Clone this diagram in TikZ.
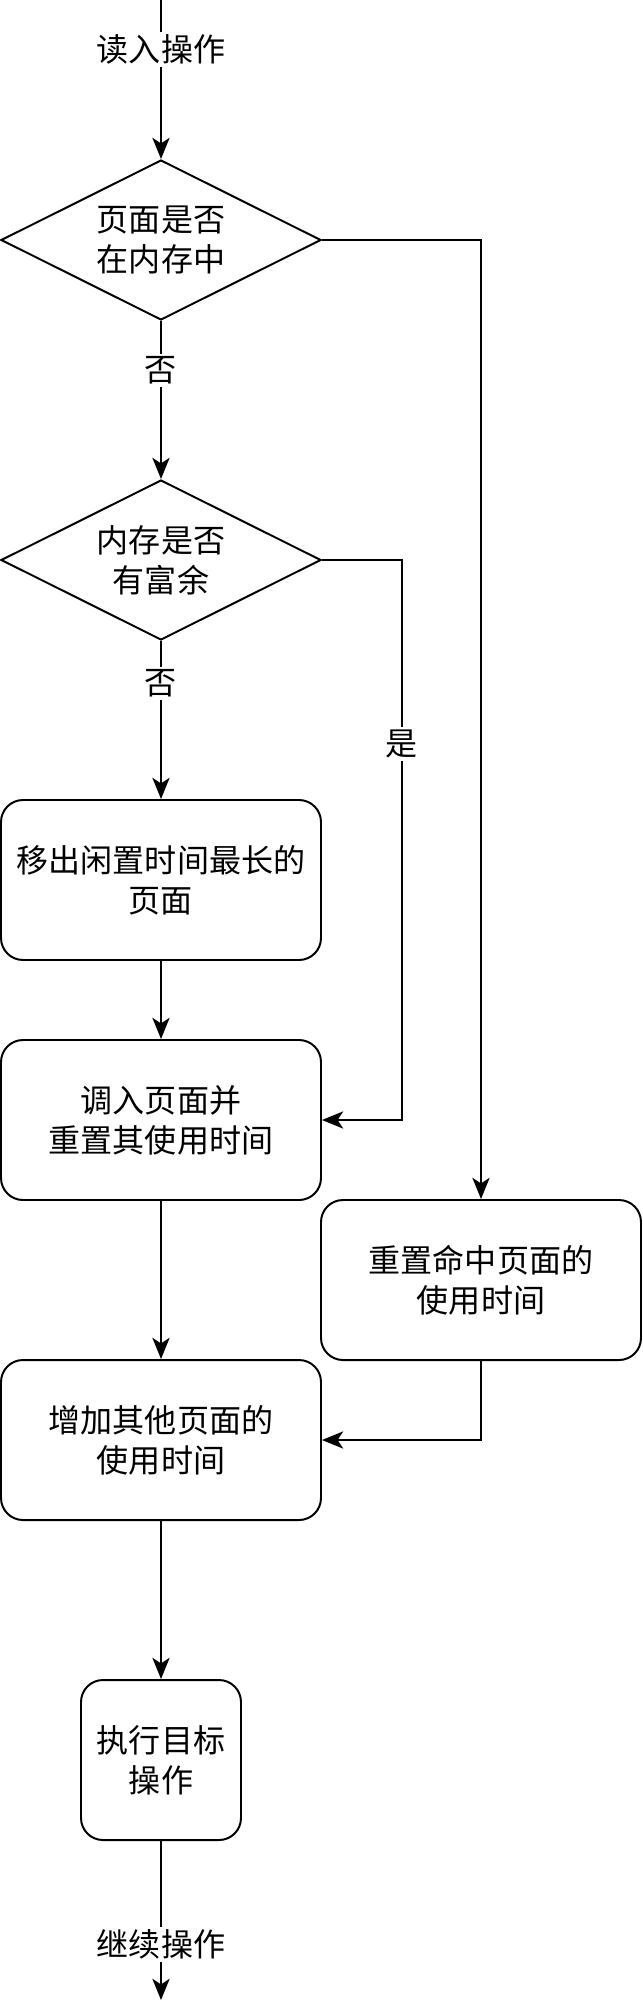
\documentclass[tikz,border=0pt]{standalone}
\usepackage{fontspec}
\newfontfamily\cjkfont{Noto Sans CJK SC}
\usetikzlibrary{shapes.geometric,arrows.meta}

\begin{document}
\begin{tikzpicture}[line width=1.4pt,
    >={Stealth[length=0.53cm,width=0.43cm,inset=0.14cm]},
    every node/.style={font=\cjkfont\fontsize{22.8}{28.45}\selectfont, align=center},
    decision/.style={draw, diamond, aspect=2, inner sep=0pt, minimum width=8cm, minimum height=4cm},
    process/.style={draw, rectangle, rounded corners=0.55cm, inner sep=0pt, minimum width=8cm, minimum height=4cm},
    lab/.style={fill=white, inner sep=2pt}]

    \useasboundingbox (-0.025,0) rectangle (16.025,-50);

    \coordinate (S) at (4,0);
    \node[decision] (D1) at (4,-6) {页面是否\\在内存中};
    \node[decision] (D2) at (4,-14) {内存是否\\有富余};

    \node[process] (B1) at (4,-22) {移出闲置时间最长的\\页面};
    \node[process] (B2) at (4,-28) {调入页面并\\重置其使用时间};
    \node[process] (C1) at (12,-32) {重置命中页面的\\使用时间};
    \node[process] (B3) at (4,-36) {增加其他页面的\\使用时间};
    \node[process, minimum width=4cm] (B4) at (4,-44) {执行目标\\操作};
    \coordinate (E) at (4,-50);

    \draw[->] (S) -- node[lab, pos=0.3125] {读入操作} (D1);
    \draw[->] (D1) -- node[lab, pos=0.3125] {否} (D2);
    \draw[->] (D1.east) -| (C1);
    \draw[->] (D2) -- node[lab, pos=0.27] {否} (B1);
    \draw[->] (D2.east) -- ++(2,0) |- node[lab, pos=0.164] {是} (B2.east);

    \draw[->] (B1) -- (B2);
    \draw[->] (B2) -- (B3);
    \draw[->] (C1) |- (B3);
    \draw[->] (B3) -- (B4);
    \draw[->] (B4) -- node[lab, pos=0.65] {继续操作} (E);

\end{tikzpicture}
\end{document}
